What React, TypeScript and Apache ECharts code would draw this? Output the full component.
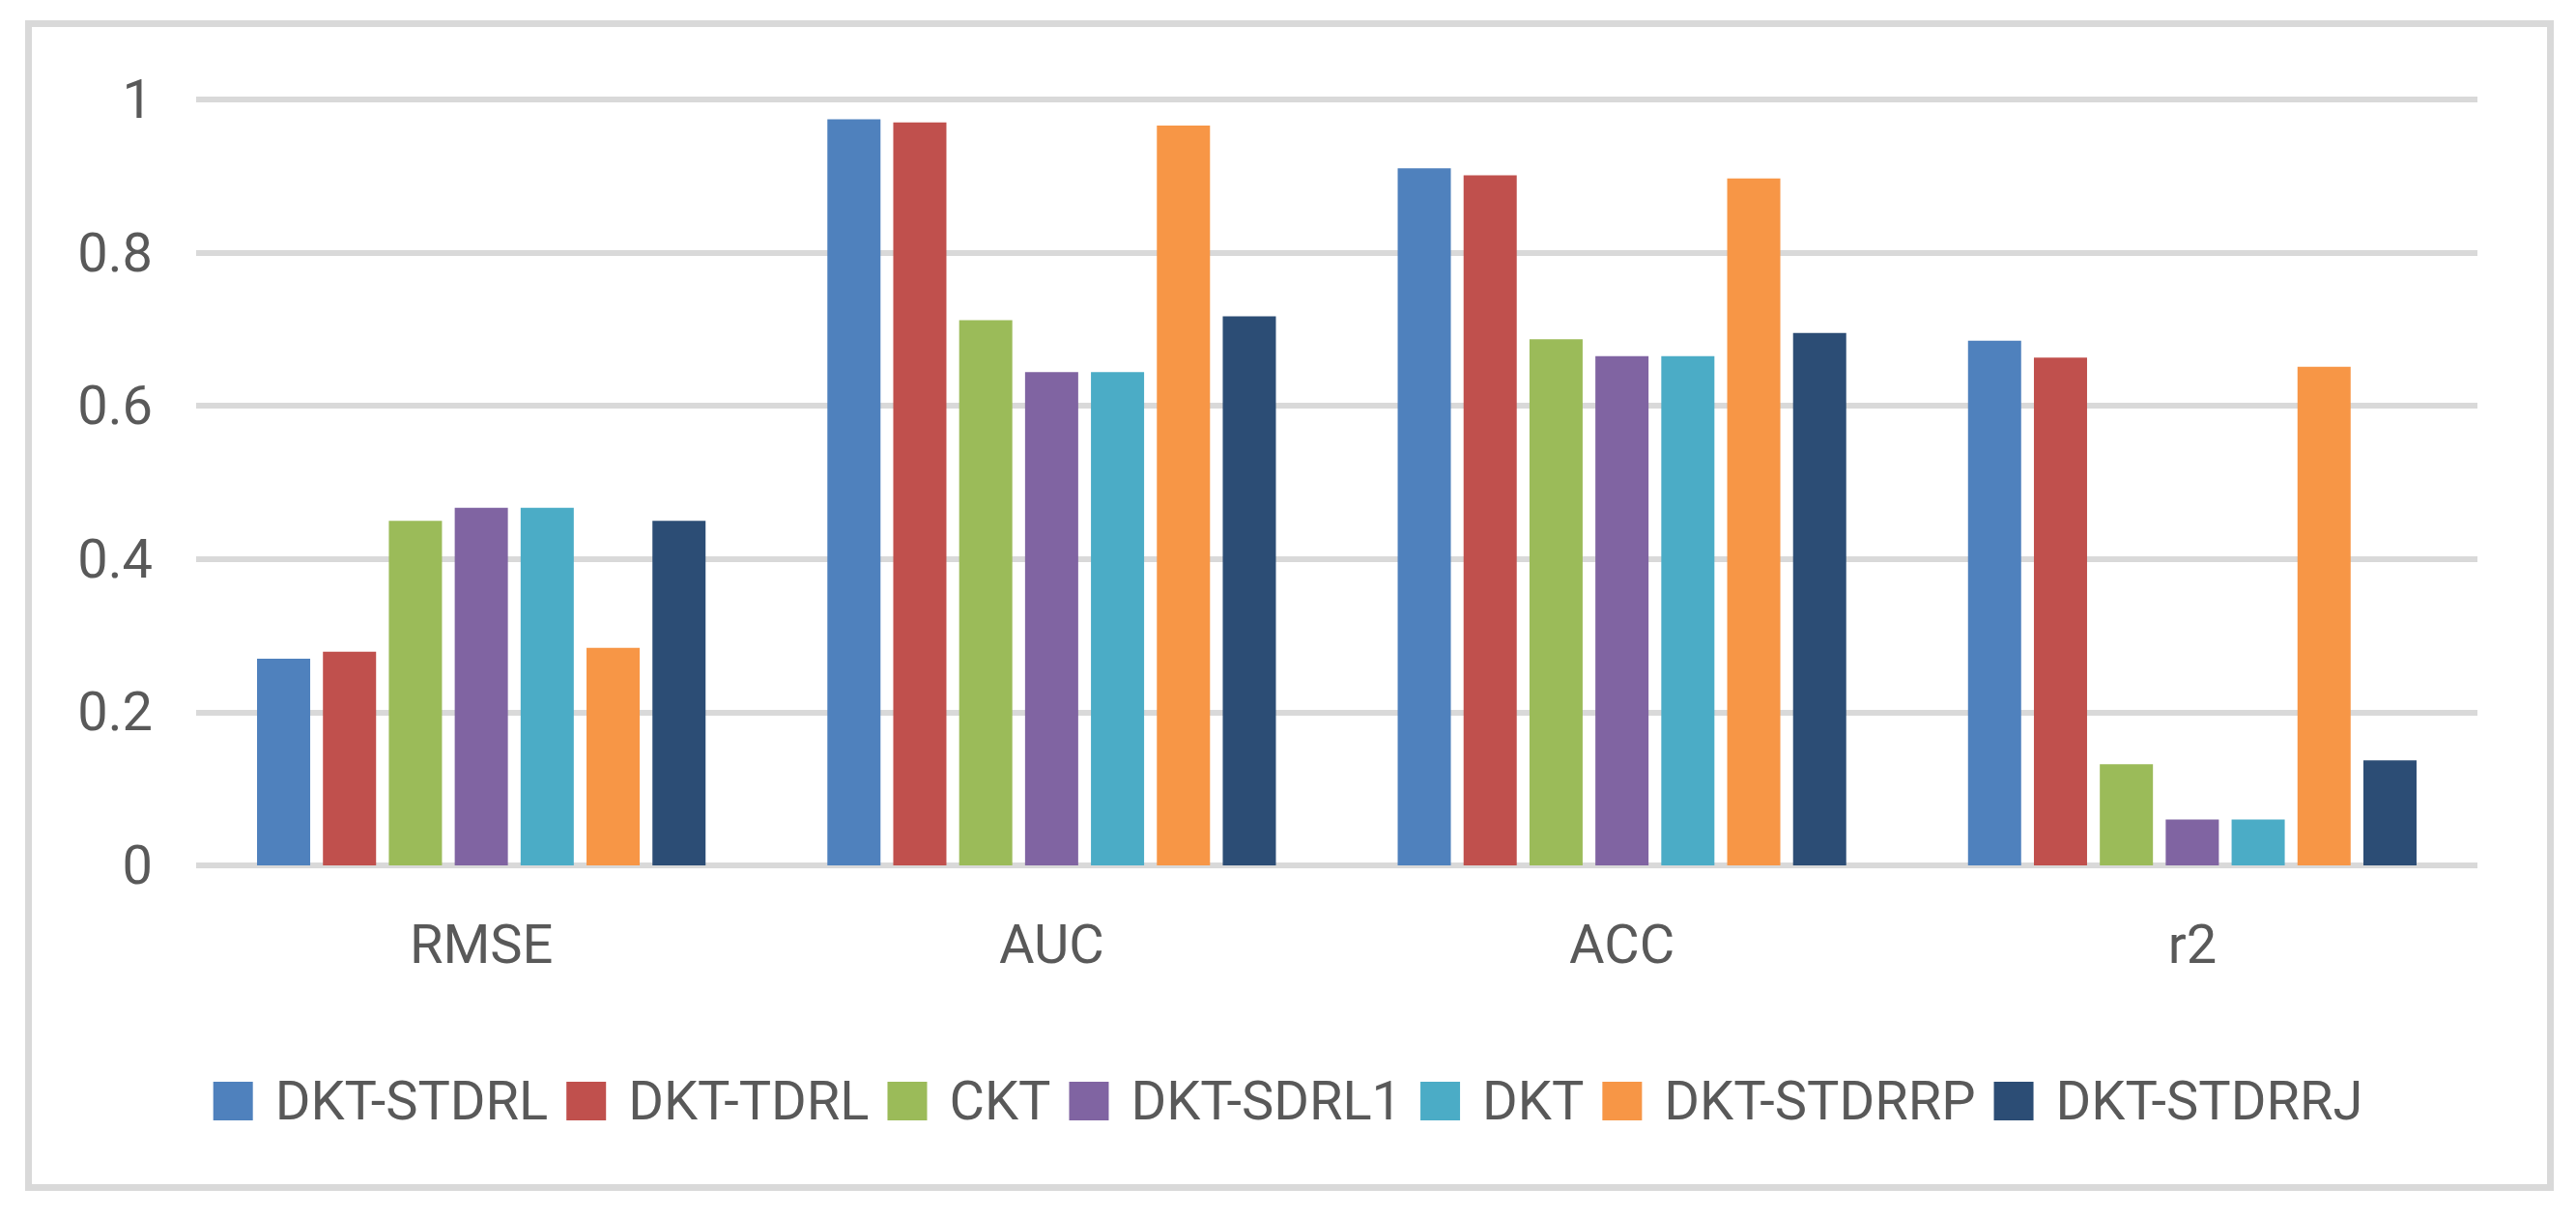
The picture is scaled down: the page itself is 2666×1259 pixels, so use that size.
import React, { useEffect, useRef } from "react";
import * as echarts from "echarts";

const categories = ["RMSE", "AUC", "ACC", "r2"];
const seriesNames = ["DKT-STDRL", "DKT-TDRL", "CKT", "DKT-SDRL1", "DKT", "DKT-STDRRP", "DKT-STDRRJ"];
const dktStdrl = [0.27, 0.974, 0.91, 0.685];
const dktTdrl = [0.279, 0.97, 0.901, 0.663];
const ckt = [0.45, 0.712, 0.687, 0.132];
const dktSdrl1 = [0.467, 0.644, 0.665, 0.06];
const dkt = [0.467, 0.644, 0.665, 0.06];
const dktStdrrp = [0.284, 0.966, 0.897, 0.651];
const dktStdrrj = [0.45, 0.717, 0.695, 0.137];
const seriesValues = [dktStdrl, dktTdrl, ckt, dktSdrl1, dkt, dktStdrrp, dktStdrrj];
const colors = ["#4F81BD", "#C0504D", "#9BBB59", "#8064A2", "#4BACC6", "#F79646", "#2C4D75"];

const FONT = "Roboto";
const TEXT = "#595959";

export default function App() {
  const ref = useRef<HTMLDivElement>(null);
  useEffect(() => {
    if (!ref.current) return;
    const chart = echarts.init(ref.current, null, { renderer: "svg" });
    chart.setOption({
      animation: false,
      backgroundColor: "#ffffff",
      color: colors,
      graphic: [
        {
          type: "rect",
          shape: { x: 29.5, y: 24.5, width: 2610, height: 1205 },
          style: { fill: "none", stroke: "#d9d9d9", lineWidth: 7 },
          silent: true,
        },
      ],
      grid: { left: 203, right: 102, top: 103, bottom: 363, containLabel: false },
      legend: {
        data: seriesNames,
        left: "center",
        top: 1107,
        icon: "rect",
        itemWidth: 41,
        itemHeight: 40,
        itemGap: 19,
        textStyle: {
          fontFamily: FONT,
          fontSize: 56,
          color: TEXT,
          lineHeight: 40,
          padding: [0, 0, 0, 18],
        },
      },
      xAxis: {
        type: "category",
        data: categories,
        axisLine: { show: false },
        axisTick: { show: false },
        axisLabel: {
          fontFamily: FONT,
          fontSize: 56,
          color: TEXT,
          lineHeight: 56,
          margin: 54,
        },
      },
      yAxis: {
        type: "value",
        min: 0,
        max: 1,
        interval: 0.2,
        axisLine: { show: false },
        axisTick: { show: false },
        axisLabel: {
          fontFamily: FONT,
          fontSize: 56,
          color: TEXT,
          margin: 45,
        },
        splitLine: { show: true, lineStyle: { color: "#d9d9d9", width: 6 } },
      },
      series: seriesNames.map((name, i) => ({
        name,
        type: "bar",
        data: seriesValues[i],
        barWidth: 55,
        barGap: "24%",
        itemStyle: { color: colors[i] },
      })),
    });
    return () => chart.dispose();
  }, []);
  return (
    <div
      ref={ref}
      style={{ position: "fixed", left: 0, top: 0, width: 2666, height: 1259, background: "#fff" }}
    />
  );
}
